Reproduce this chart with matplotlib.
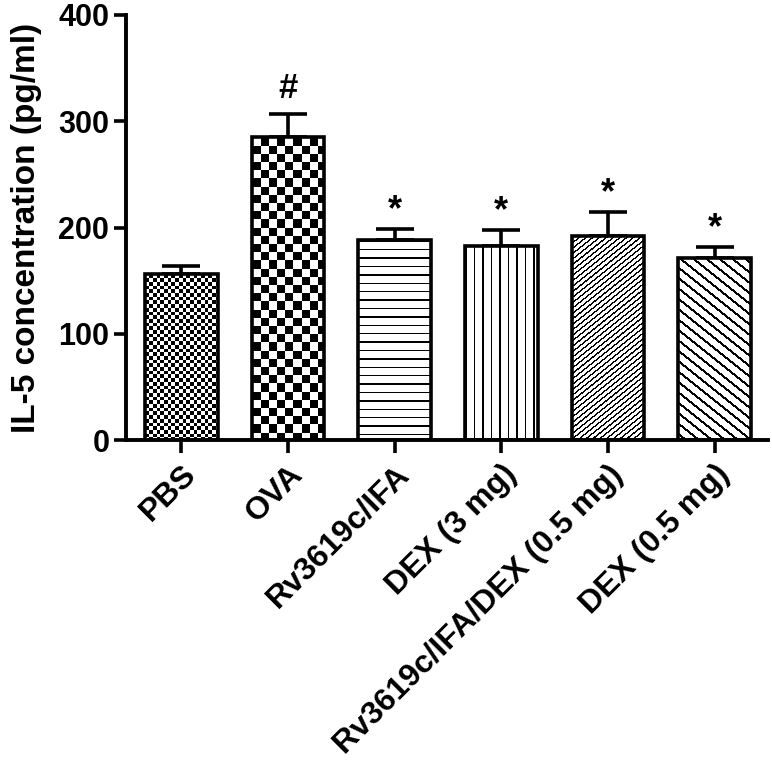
import numpy as np
import matplotlib
matplotlib.use("Agg")
import matplotlib.pyplot as plt

categories = ["PBS", "OVA", "Rv3619c/IFA", "DEX (3 mg)", "Rv3619c/IFA/DEX (0.5 mg)", "DEX (0.5 mg)"]
means = [156, 285, 188, 183, 192, 171]
sems = [8, 22, 11, 15, 23, 11]
marks = ["", "#", "*", "*", "*", "*"]
patterns = ["checker_fine", "checker_coarse", "hlines", "vlines", "diag_up", "diag_down"]
yticks = [0, 100, 200, 300, 400]

plt.rcParams["font.family"] = ["Liberation Sans", "DejaVu Sans"]
plt.rcParams["font.weight"] = "bold"

W, H, DPI = 772, 761, 100
fig = plt.figure(figsize=(W / DPI, H / DPI), dpi=DPI)
ax = fig.add_axes([126 / W, 1 - 440 / H, (768 - 126) / W, (440 - 15) / H])
ax.set_xlim(-0.52, 5.5)
ax.set_ylim(0, 400)

x = np.arange(len(categories))
bw = 0.68
lw = 2.6
bars = ax.bar(x, means, width=bw, facecolor="none", edgecolor="black", linewidth=lw, zorder=3)


def pattern_img(kind, w, h):
    jj, ii = np.meshgrid(np.arange(w), np.arange(h))
    if kind == "checker_fine":
        c = 3.7
        return (((ii // c) + (jj // c)) % 2).astype(float)
    if kind == "checker_coarse":
        c = 8.2
        return (((ii // c) + (jj // c)) % 2).astype(float)
    if kind == "hlines":
        return ((ii % 8.4) < 1.4).astype(float)
    if kind == "vlines":
        return ((jj % 8.5) < 1.4).astype(float)
    if kind == "diag_up":
        return (((jj + ii * 1.25) % 6.8) < 2.3).astype(float)
    if kind == "diag_down":
        return (((jj - ii * 1.25) % 13.0) < 3.4).astype(float)
    return np.zeros((h, w))


for b, kind in zip(bars, patterns):
    x0, y0 = b.get_x(), b.get_y()
    x1, y1 = x0 + b.get_width(), y0 + b.get_height()
    p0 = ax.transData.transform((x0, y0))
    p1 = ax.transData.transform((x1, y1))
    wpx = int(round(abs(p1[0] - p0[0])))
    hpx = int(round(abs(p1[1] - p0[1])))
    img = pattern_img(kind, wpx, hpx)
    im = ax.imshow(img, cmap="gray_r", vmin=0, vmax=1, extent=(x0, x1, y0, y1),
                   interpolation="nearest", aspect="auto", zorder=2.5, origin="upper")
    im.set_clip_path(b)

ax.errorbar(x, means, yerr=[np.zeros(len(sems)), sems], fmt="none", ecolor="black",
            elinewidth=2.6, capsize=14, capthick=2.6, zorder=2)

for xi, m, s, t in zip(x, means, sems, marks):
    if t:
        off = 18 if t == "#" else 13
        ax.annotate(t, (xi, m + s), xytext=(0, off), textcoords="offset points",
                    ha="center", va="center", fontsize=25 if t == "#" else 26,
                    fontweight="bold")

ax.set_xlim(-0.52, 5.5)
ax.set_ylim(0, 400)
ax.set_yticks(yticks)
ax.set_xticks(x)
ax.set_xticklabels(categories, rotation=45, ha="right", rotation_mode="anchor",
                   fontsize=23, fontweight="bold")
ax.set_yticklabels([str(v) for v in yticks], fontsize=22, fontweight="bold")
ax.set_ylabel("IL-5 concentration (pg/ml)", fontsize=24, fontweight="bold", labelpad=12)

for s in ["top", "right"]:
    ax.spines[s].set_visible(False)
for s in ["left", "bottom"]:
    ax.spines[s].set_linewidth(2.8)
ax.tick_params(axis="both", width=2.6, length=9, direction="out", pad=3)
ax.tick_params(axis="x", pad=5)

fig.savefig("out.png", dpi=DPI)
